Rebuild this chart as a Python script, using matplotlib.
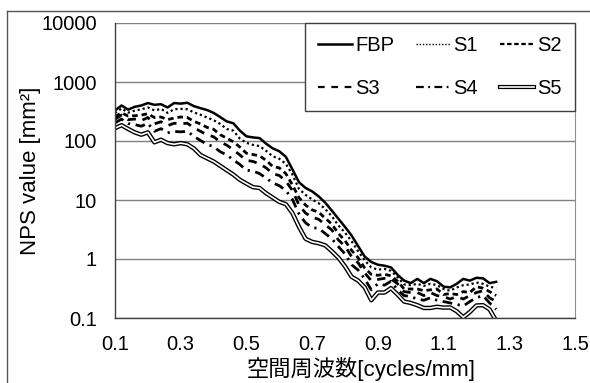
import numpy as np
import matplotlib
matplotlib.use("Agg")
import matplotlib.pyplot as plt
from matplotlib.lines import Line2D
from matplotlib.legend_handler import HandlerTuple

plt.rcParams["font.family"] = ["Liberation Sans", "Noto Sans CJK JP", "DejaVu Sans"]

# spatial frequency [cycles/mm]
FREQ = [0.10, 0.12, 0.14, 0.16, 0.18, 0.20, 0.22, 0.24, 0.26, 0.28,
        0.30, 0.32, 0.34, 0.36, 0.38, 0.40, 0.42, 0.44, 0.46, 0.48,
        0.50, 0.52, 0.54, 0.56, 0.58, 0.60, 0.62, 0.64, 0.66, 0.68,
        0.70, 0.72, 0.74, 0.76, 0.78, 0.80, 0.82, 0.84, 0.86, 0.88,
        0.90, 0.92, 0.94, 0.96, 0.98, 1.00, 1.02, 1.04, 1.06, 1.08,
        1.10, 1.12, 1.14, 1.16, 1.18, 1.20, 1.22, 1.24, 1.26]

NPS_FBP = [330, 400, 340, 380, 400, 440, 410, 420, 370, 440,
           430, 445, 390, 360, 335, 300, 255, 215, 200, 150,
           120, 115, 112, 90, 75, 67, 54, 33, 20, 16,
           14, 11.5, 9.0, 6.6, 4.8, 3.5, 2.5, 1.65, 1.1, 0.89,
           0.80, 0.77, 0.72, 0.54, 0.43, 0.39, 0.46, 0.39, 0.46, 0.42,
           0.34, 0.33, 0.38, 0.46, 0.43, 0.48, 0.47, 0.39, 0.41]

NPS_S1 = [298, 356, 303, 327, 345, 370, 330, 350, 300, 345,
          350, 345, 305, 280, 250, 226, 195, 160, 150, 110,
          93, 86, 82, 68, 55, 50, 41, 27, 15.4, 12.2,
          10.2, 8.8, 7.0, 5.3, 3.7, 2.8, 2.0, 1.35, 0.95, 0.72,
          0.66, 0.68, 0.63, 0.49, 0.37, 0.36, 0.38, 0.35, 0.38, 0.36,
          0.31, 0.29, 0.33, 0.36, 0.37, 0.40, 0.38, 0.34, 0.32]

NPS_S2 = [259, 300, 265, 268, 275, 290, 250, 255, 230, 245,
          255, 250, 215, 195, 170, 158, 128, 112, 97, 79,
          62, 59, 56, 47, 37, 35, 28, 18, 10.9, 8.2,
          6.8, 6.2, 4.9, 3.9, 2.7, 2.05, 1.40, 1.05, 0.70, 0.55,
          0.53, 0.55, 0.52, 0.42, 0.31, 0.31, 0.31, 0.29, 0.30, 0.31,
          0.25, 0.26, 0.25, 0.28, 0.27, 0.34, 0.32, 0.28, 0.24]

NPS_S3 = [233, 275, 230, 235, 222, 250, 195, 212, 182, 200,
          196, 200, 168, 146, 128, 118, 97, 85, 71, 58,
          47, 45, 41, 35, 28, 26, 21, 14.5, 8.2, 6.0,
          5.1, 4.7, 3.8, 3.1, 2.1, 1.65, 1.10, 0.86, 0.58, 0.43,
          0.45, 0.47, 0.46, 0.38, 0.28, 0.27, 0.27, 0.24, 0.27, 0.24,
          0.23, 0.21, 0.23, 0.21, 0.24, 0.27, 0.29, 0.22, 0.19]

NPS_S4 = [203, 235, 198, 190, 178, 200, 146, 162, 138, 145,
          143, 146, 120, 102, 88, 80, 66, 58, 48, 40,
          32, 31, 28, 23.5, 19.5, 17.5, 14.5, 10.2, 5.8, 4.1,
          3.4, 3.3, 2.7, 2.2, 1.62, 1.22, 0.80, 0.65, 0.46, 0.30,
          0.38, 0.36, 0.42, 0.30, 0.24, 0.23, 0.21, 0.20, 0.22, 0.20,
          0.19, 0.18, 0.17, 0.16, 0.19, 0.22, 0.24, 0.18, 0.14]

NPS_S5 = [165, 185, 160, 140, 128, 140, 95, 105, 92, 88,
          92, 88, 75, 58, 51, 45, 38, 32, 27, 22,
          19, 16.5, 16, 13, 11, 9.3, 8.5, 6.0, 3.5, 2.2,
          1.95, 1.85, 1.7, 1.35, 1.05, 0.75, 0.50, 0.43, 0.33, 0.20,
          0.27, 0.27, 0.32, 0.25, 0.19, 0.18, 0.165, 0.148, 0.148, 0.155,
          0.15, 0.151, 0.13, 0.103, 0.126, 0.163, 0.165, 0.14, 0.09]

X_TICKS = [0.1, 0.3, 0.5, 0.7, 0.9, 1.1, 1.3, 1.5]
Y_TICKS = [0.1, 1, 10, 100, 1000, 10000]
Y_TICKLABELS = ["0.1", "1", "10", "100", "1000", "10000"]

fig = plt.figure(figsize=(5.9, 3.83), dpi=100)
ax = fig.add_axes([115 / 590, 65 / 383, 460 / 590, 295 / 383])

# outer frame (top and left edges)
fig.add_artist(Line2D([7 / 590, 1.0], [1 - 11 / 383] * 2, color="#555555", lw=1.0,
                      transform=fig.transFigure))
fig.add_artist(Line2D([7 / 590] * 2, [0.0, 1 - 11 / 383], color="#555555", lw=1.0,
                      transform=fig.transFigure))

ax.plot(FREQ, NPS_FBP, color="black", lw=1.8, solid_joinstyle="round")
ax.plot(FREQ, NPS_S1, color="black", lw=1.6, dashes=(1, 1.3))
ax.plot(FREQ, NPS_S2, color="black", lw=2.0, dashes=(2, 1.4))
ax.plot(FREQ, NPS_S3, color="black", lw=2.0, dashes=(3, 2.5))
ax.plot(FREQ, NPS_S4, color="black", lw=2.0, dashes=(3.5, 2, 0.8, 2))
ax.plot(FREQ, NPS_S5, color="black", lw=3.2)
ax.plot(FREQ, NPS_S5, color="white", lw=1.2)

ax.set_yscale("log")
ax.set_xlim(0.1, 1.5)
ax.set_ylim(0.1, 10000)
ax.set_xticks(X_TICKS)
ax.set_xticklabels([f"{v:.1f}" for v in X_TICKS])
ax.set_yticks(Y_TICKS)
ax.set_yticklabels(Y_TICKLABELS)
ax.minorticks_off()
ax.tick_params(axis="both", length=0, labelsize=14.5)
ax.tick_params(axis="y", pad=13)
ax.tick_params(axis="x", pad=12)

for t in Y_TICKS:
    ax.axhline(t, color="#808080", lw=1.0, zorder=0)
for side in ["left", "bottom"]:
    ax.spines[side].set_color("#404040")
    ax.spines[side].set_linewidth(1.0)
ax.spines["right"].set_color("#909090")
ax.spines["top"].set_visible(False)

ax.set_ylabel("NPS value [mm²]", fontsize=16)
ax.yaxis.set_label_coords(-0.16, 0.5)
ax.set_xlabel("空間周波数[cycles/mm]", fontsize=16)
ax.xaxis.set_label_coords(0.535, -0.132)

handles = [
    Line2D([], [], color="black", lw=1.8),
    Line2D([], [], color="black", lw=1.0, dashes=(1, 1.3)),
    Line2D([], [], color="black", lw=1.6, dashes=(2, 1.2)),
    Line2D([], [], color="black", lw=1.6, dashes=(3, 3)),
    Line2D([], [], color="black", lw=1.6, dashes=(3.5, 2, 0.8, 2)),
    (Line2D([], [], color="black", lw=3.0), Line2D([], [], color="white", lw=1.2)),
]
labels = ["FBP", "S1", "S2", "S3", "S4", "S5"]
order = [0, 3, 1, 4, 2, 5]
leg = ax.legend([handles[i] for i in order], [labels[i] for i in order],
                ncol=3, loc="upper right", bbox_to_anchor=(1.0, 1.0),
                fontsize=14.5, frameon=True, fancybox=False, framealpha=1,
                edgecolor="#404040", borderpad=0.65, labelspacing=1.2,
                handlelength=1.7, handletextpad=0.15, columnspacing=1.1,
                borderaxespad=0, handler_map={tuple: HandlerTuple(ndivide=1)})
leg.get_frame().set_linewidth(1.0)

fig.savefig("out.png", dpi=100)
